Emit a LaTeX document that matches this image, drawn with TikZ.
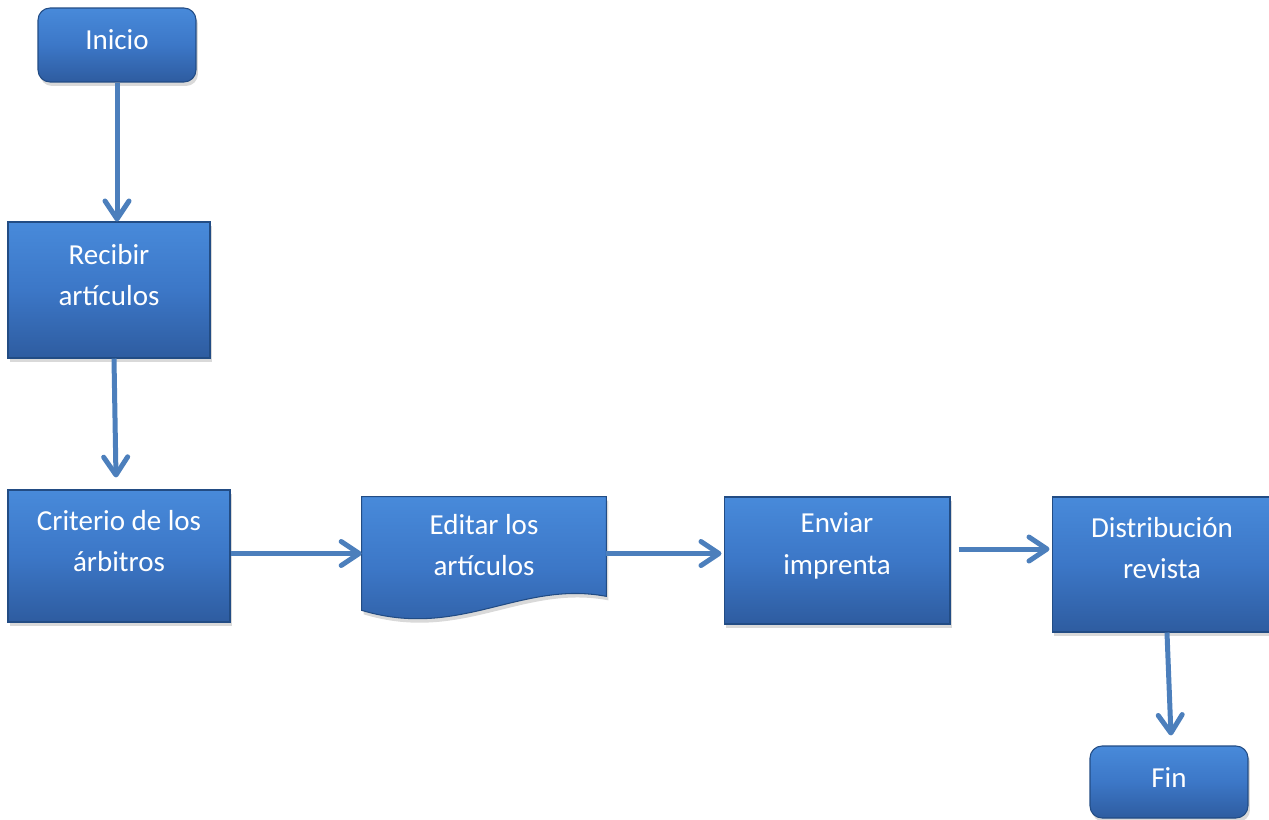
\documentclass[tikz,border=0pt]{standalone}
\usepackage{fontspec}
\setmainfont{Carlito}
\usetikzlibrary{arrows.meta,shadows,calc}

\definecolor{boxtop}{RGB}{72,138,218}
\definecolor{boxmid}{RGB}{60,119,199}
\definecolor{boxbot}{RGB}{46,92,160}
\definecolor{boxedge}{RGB}{34,76,132}
\definecolor{flow}{RGB}{76,127,188}

\tikzset{
  boxfill/.style={draw=boxedge, line width=0.6pt,
    top color=boxtop, bottom color=boxbot, middle color=boxmid,
    drop shadow={opacity=0.3, shadow xshift=0.04cm, shadow yshift=-0.08cm}},
  stepbox/.style={boxfill, rectangle, inner sep=0pt},
  endbox/.style={stepbox, rounded corners=0.24cm},
  anchorbox/.style={rectangle, inner sep=0pt, draw=none},
  boxtext/.style={text=white, font=\fontsize{16.5}{23.8}\selectfont,
    align=center, inner sep=0pt},
  flowline/.style={draw=flow, line width=0.1cm,
    -{Straight Barb[length=3.6mm,width=4.8mm,round]}},
}

\begin{document}
\begin{tikzpicture}[x=0.02cm, y=-0.02cm]
  \useasboundingbox (0,0) rectangle (1269,819);

  % boxes
  \node[endbox, minimum width=3.16cm, minimum height=1.48cm] (inicio) at (117,45) {};
  \node[stepbox, minimum width=4.04cm, minimum height=2.72cm] (recibir) at (109,290) {};
  \node[stepbox, minimum width=4.44cm, minimum height=2.64cm] (criterio) at (119,556) {};
  \node[anchorbox, minimum width=4.88cm, minimum height=2.26cm] (editar) at (484,553.5) {};
  \path[boxfill] (editar.north west) -- (editar.north east)
    -- ([yshift=0.28cm]editar.south east)
    .. controls (520,580) and (460,640) .. (editar.south west) -- cycle;
  \node[stepbox, minimum width=4.52cm, minimum height=2.54cm] (enviar) at (837,560.5) {};
  \node[stepbox, minimum width=4.36cm, minimum height=2.7cm] (distrib) at (1161,564.5) {};
  \node[endbox, minimum width=3.16cm, minimum height=1.44cm] (fin) at (1169,782) {};

  % labels
  \node[boxtext] (inicio-t) at (117,40) {Inicio};
  \node[boxtext] (recibir-t) at (109,275) {Recibir\\artículos};
  \node[boxtext] (criterio-t) at (119,541) {Criterio de los\\árbitros};
  \node[boxtext] (editar-t) at (484,545) {Editar los\\artículos};
  \node[boxtext] (enviar-t) at (837,546) {Enviar\\imprenta};
  \node[boxtext] (distrib-t) at (1162,548) {Distribución\\revista};
  \node[boxtext] (fin-t) at (1169,778) {Fin};

  % connectors
  \draw[flowline] (inicio.south) -- (inicio.south |- recibir.north);
  \draw[flowline] ([xshift=0.1cm]recibir.south) -- ([xshift=-0.06cm,yshift=0.24cm]criterio.north);
  \draw[flowline] (criterio.east |- editar.west) -- (editar.west);
  \draw[flowline, shorten >=0.04cm] (editar.east) -- (editar.east -| enviar.west);
  \draw[flowline, shorten <=0.16cm, shorten >=0.04cm]
    ([yshift=0.23cm]enviar.east) -- ([yshift=0.23cm]enviar.east -| distrib.west);
  \draw[flowline] ([xshift=0.12cm]distrib.south) -- ([xshift=0.04cm,yshift=0.2cm]fin.north);
\end{tikzpicture}
\end{document}
